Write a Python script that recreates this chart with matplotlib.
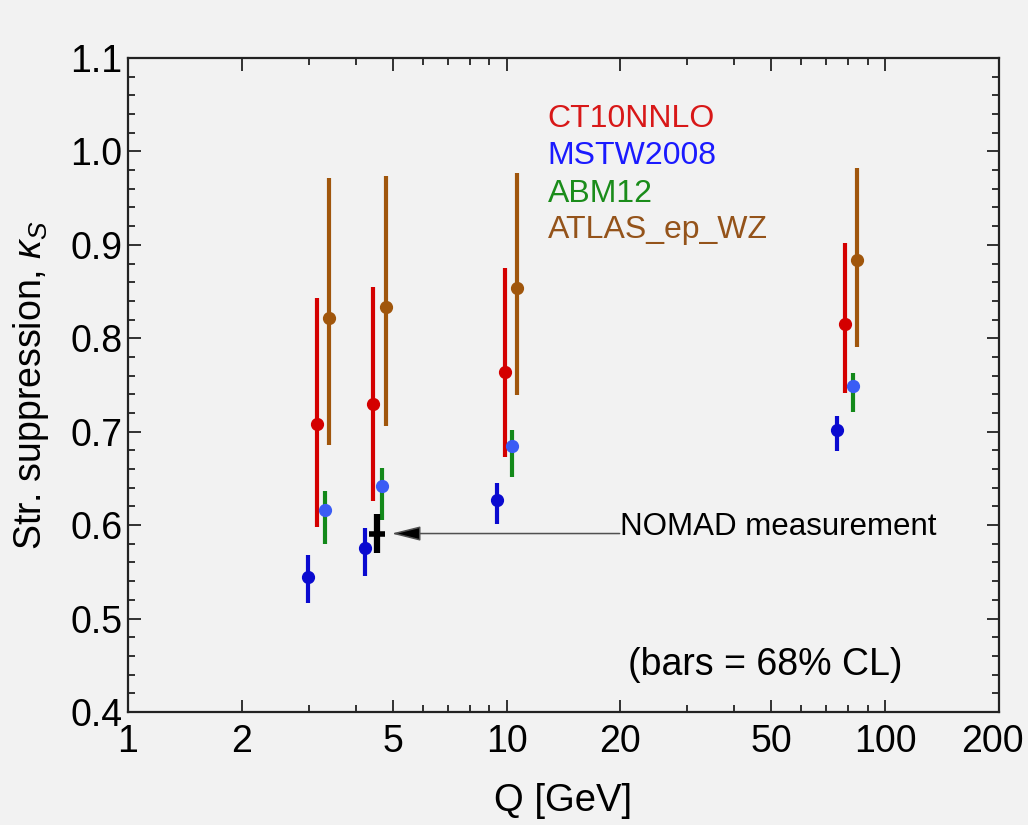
import matplotlib
matplotlib.use("Agg")
import matplotlib.pyplot as plt
import matplotlib.transforms as mtransforms
from matplotlib.ticker import FixedLocator, NullFormatter, MultipleLocator

plt.rcParams['font.family'] = ['Liberation Sans', 'DejaVu Sans']
plt.rcParams['mathtext.fontset'] = 'custom'
plt.rcParams['mathtext.it'] = 'Liberation Sans:italic'
plt.rcParams['mathtext.rm'] = 'Liberation Sans'

# kappa_s values with 68% CL bars
ct10_q = [3.15, 4.43, 9.88, 78.4]
ct10_val = [0.708, 0.730, 0.764, 0.815]
ct10_lo = [0.598, 0.626, 0.673, 0.741]
ct10_hi = [0.843, 0.855, 0.875, 0.902]

mstw_q = [2.99, 4.22, 9.41, 74.7]
mstw_val = [0.544, 0.575, 0.627, 0.702]
mstw_lo = [0.517, 0.546, 0.601, 0.679]
mstw_hi = [0.568, 0.597, 0.645, 0.717]

abm_q = [3.31, 4.68, 10.37, 82.3]
abm_val = [0.616, 0.642, 0.685, 0.749]
abm_lo = [0.580, 0.606, 0.652, 0.721]
abm_hi = [0.636, 0.661, 0.702, 0.763]

atlas_q = [3.39, 4.79, 10.69, 84.4]
atlas_val = [0.822, 0.834, 0.854, 0.884]
atlas_lo = [0.686, 0.706, 0.739, 0.791]
atlas_hi = [0.972, 0.974, 0.977, 0.982]

nomad_q = 4.54
nomad_val = 0.591
nomad_err = 0.021

x_ticks = [1, 2, 5, 10, 20, 50, 100, 200]
x_minor = [3, 4, 6, 7, 8, 9, 30, 40, 60, 70, 80, 90]

bg = '#f2f2f2'
fig = plt.figure(figsize=(10.28, 8.25), dpi=100, facecolor=bg)
ax = fig.add_axes([0.1245, 0.137, 0.8473, 0.7927], facecolor=bg)


def draw(q, val, lo, hi, bar_col, dot_col, z):
    yerr = [[v - l for v, l in zip(val, lo)], [h - v for v, h in zip(val, hi)]]
    ax.errorbar(q, val, yerr=yerr, fmt='o', color=bar_col, ecolor=bar_col,
                mfc=dot_col, mec=dot_col, ms=8.5, elinewidth=3, capsize=0, zorder=z)


draw(ct10_q, ct10_val, ct10_lo, ct10_hi, '#d40000', '#d40000', 3)
draw(atlas_q, atlas_val, atlas_lo, atlas_hi, '#a0560c', '#a0560c', 3)
draw(abm_q, abm_val, abm_lo, abm_hi, '#13891a', '#3a5cf5', 4)
draw(mstw_q, mstw_val, mstw_lo, mstw_hi, '#0a0ad0', '#0a0ad0', 4)

# NOMAD point and arrow
ax.errorbar([nomad_q], [nomad_val], yerr=[[nomad_err], [nomad_err]], fmt='_',
            color='black', ms=11, mew=4, elinewidth=4.5, capsize=0, zorder=5)
ax.annotate('', xy=(4.97, nomad_val), xytext=(19.9, nomad_val),
            arrowprops=dict(arrowstyle='-|>,head_length=1.8,head_width=0.45',
                            mutation_scale=10, color='#707070', lw=1.1,
                            shrinkA=0, shrinkB=0, fc='black', ec='#505050'))
ax.text(19.9, 0.598, 'NOMAD measurement', fontsize=22.5, va='center', ha='left')

ax.text(0.482, 0.8945, 'CT10NNLO', transform=ax.transAxes, color='#d81818', fontsize=23, va='baseline')
ax.text(0.482, 0.838, 'MSTW2008', transform=ax.transAxes, color='#1a1aff', fontsize=23, va='baseline')
ax.text(0.482, 0.780, 'ABM12', transform=ax.transAxes, color='#1a8c1a', fontsize=23, va='baseline')
ax.text(0.482, 0.725, 'ATLAS_ep_WZ', transform=ax.transAxes, color='#94531a', fontsize=23, va='baseline')

ax.text(0.574, 0.072, '(bars = 68% CL)', transform=ax.transAxes, fontsize=27, va='center')

ax.set_xscale('log')
ax.set_xlim(1, 200)
ax.set_ylim(0.4, 1.1)
ax.xaxis.set_major_locator(FixedLocator(x_ticks))
ax.xaxis.set_minor_locator(FixedLocator(x_minor))
ax.xaxis.set_minor_formatter(NullFormatter())
ax.set_xticklabels([str(t) for t in x_ticks])
ax.yaxis.set_major_locator(MultipleLocator(0.1))
ax.yaxis.set_minor_locator(MultipleLocator(0.02))
ax.set_yticklabels(['%.1f' % t for t in ax.get_yticks()])

ax.tick_params(which='both', direction='in', top=True, right=True, color='#222222',
               labelsize=27, width=1.3)
ax.tick_params(which='major', length=9)
ax.tick_params(which='minor', length=5)
ax.tick_params(axis='x', which='major', pad=9)
ax.tick_params(axis='y', which='major', pad=4)
for s in ax.spines.values():
    s.set_color('#222222')
    s.set_linewidth(1.6)

# nudge the last x label so it stays inside the figure
last = ax.get_xticklabels()[-1]
last.set_transform(last.get_transform() + mtransforms.ScaledTranslation(-5 / 72, 0, fig.dpi_scale_trans))

ax.set_xlabel('Q [GeV]', fontsize=27.5, labelpad=16)
ax.set_ylabel('Str. suppression, $\\kappa_S$', fontsize=27, labelpad=14)

fig.savefig('out.png', dpi=100, facecolor=bg)
